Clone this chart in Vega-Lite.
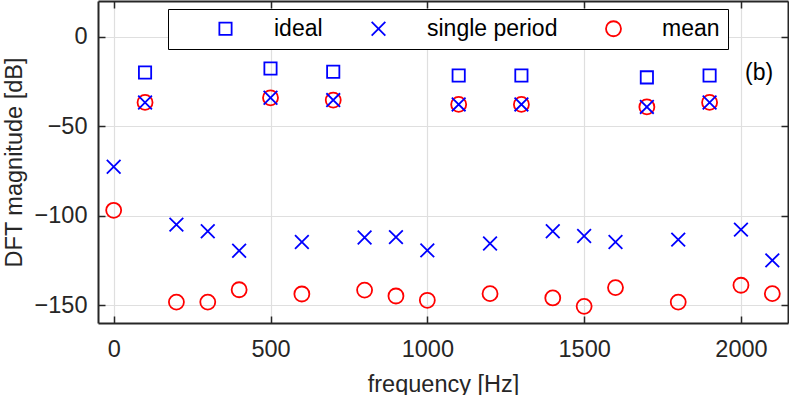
{
  "$schema": "https://vega.github.io/schema/vega-lite/v6.json",
  "autosize": "none",
  "width": 690,
  "height": 322,
  "padding": {"left": 98, "top": 1, "right": 1, "bottom": 72},
  "background": "white",
  "config": {
    "font": "Liberation Sans",
    "view": {"stroke": null},
    "axis": {
      "labelFont": "Liberation Sans",
      "titleFont": "Liberation Sans",
      "labelFontSize": 23.5,
      "titleFontSize": 23.5,
      "titleFontWeight": "normal",
      "labelColor": "#262626",
      "titleColor": "#262626",
      "domain": true,
      "domainColor": "#262626",
      "domainWidth": 2,
      "domainOpacity": 1,
      "ticks": true,
      "tickColor": "#262626",
      "tickWidth": 1.5,
      "tickOpacity": 1,
      "tickSize": -7,
      "gridColor": "#dfdfdf",
      "gridWidth": 1.2,
      "zindex": 1
    }
  },
  "datasets": {
    "pts": [
      {"f": 100, "db": -20, "series": "ideal"},
      {"f": 500, "db": -17.7, "series": "ideal"},
      {"f": 700, "db": -19.6, "series": "ideal"},
      {"f": 1100, "db": -21.6, "series": "ideal"},
      {"f": 1300, "db": -21.6, "series": "ideal"},
      {"f": 1700, "db": -22.7, "series": "ideal"},
      {"f": 1900, "db": -21.6, "series": "ideal"},
      {"f": 0, "db": -97, "series": "mean"},
      {"f": 100, "db": -36.7, "series": "mean"},
      {"f": 200, "db": -148.3, "series": "mean"},
      {"f": 300, "db": -148.3, "series": "mean"},
      {"f": 400, "db": -141.4, "series": "mean"},
      {"f": 500, "db": -34.1, "series": "mean"},
      {"f": 600, "db": -143.8, "series": "mean"},
      {"f": 700, "db": -35.4, "series": "mean"},
      {"f": 800, "db": -141.6, "series": "mean"},
      {"f": 900, "db": -144.9, "series": "mean"},
      {"f": 1000, "db": -147.3, "series": "mean"},
      {"f": 1100, "db": -37.8, "series": "mean"},
      {"f": 1200, "db": -143.6, "series": "mean"},
      {"f": 1300, "db": -37.8, "series": "mean"},
      {"f": 1400, "db": -146, "series": "mean"},
      {"f": 1500, "db": -150.7, "series": "mean"},
      {"f": 1600, "db": -140.2, "series": "mean"},
      {"f": 1700, "db": -39.2, "series": "mean"},
      {"f": 1800, "db": -148.3, "series": "mean"},
      {"f": 1900, "db": -36.7, "series": "mean"},
      {"f": 2000, "db": -138.9, "series": "mean"},
      {"f": 2100, "db": -143.6, "series": "mean"},
      {"f": 0, "db": -72.7, "series": "single period"},
      {"f": 100, "db": -36.7, "series": "single period"},
      {"f": 200, "db": -105, "series": "single period"},
      {"f": 300, "db": -108.7, "series": "single period"},
      {"f": 400, "db": -119.6, "series": "single period"},
      {"f": 500, "db": -34.1, "series": "single period"},
      {"f": 600, "db": -114.7, "series": "single period"},
      {"f": 700, "db": -35.4, "series": "single period"},
      {"f": 800, "db": -112.2, "series": "single period"},
      {"f": 900, "db": -112, "series": "single period"},
      {"f": 1000, "db": -119.4, "series": "single period"},
      {"f": 1100, "db": -37.8, "series": "single period"},
      {"f": 1200, "db": -115.6, "series": "single period"},
      {"f": 1300, "db": -37.8, "series": "single period"},
      {"f": 1400, "db": -108.7, "series": "single period"},
      {"f": 1500, "db": -111.4, "series": "single period"},
      {"f": 1600, "db": -114.7, "series": "single period"},
      {"f": 1700, "db": -39.2, "series": "single period"},
      {"f": 1800, "db": -113.4, "series": "single period"},
      {"f": 1900, "db": -36.7, "series": "single period"},
      {"f": 2000, "db": -107.8, "series": "single period"},
      {"f": 2100, "db": -125, "series": "single period"}
    ],
    "note": [{"f": 2058, "db": -20, "label": "(b)"}]
  },
  "layer": [
    {
      "data": {"name": "pts"},
      "mark": {"type": "point", "filled": false, "strokeWidth": 1.8, "opacity": 1},
      "encoding": {
        "x": {
          "field": "f", "type": "quantitative",
          "scale": {"domain": [-50, 2150], "nice": false, "zero": false},
          "axis": {"values": [0, 500, 1000, 1500, 2000], "format": "d", "title": "frequency [Hz]", "labelPadding": 21, "titlePadding": 12, "grid": true, "domainColor": "#262626", "tickColor": "#262626"}
        },
        "y": {
          "field": "db", "type": "quantitative",
          "scale": {"domain": [-160, 20], "nice": false, "zero": false},
          "axis": {"values": [-150, -100, -50, 0], "format": "d", "title": "DFT magnitude [dB]", "labelPadding": 18, "titlePadding": 8, "grid": true, "domainColor": "#262626", "tickColor": "#262626"}
        },
        "color": {
          "field": "series", "type": "nominal",
          "scale": {"domain": ["ideal", "single period", "mean"], "range": ["#0000ff", "#0000ff", "#ff0000"]},
          "legend": {
            "orient": "none", "legendX": 70, "legendY": 8,
            "direction": "horizontal",
            "title": "\u00a0", "titleOrient": "left", "titlePadding": 38, "titleFontSize": 22,
            "fillColor": "white", "strokeColor": "#000000",
            "padding": 8, "labelFontSize": 23, "labelFont": "Liberation Sans", "labelColor": "#000000",
            "labelOffset": 37, "columnPadding": 44, "symbolStrokeWidth": 1.8, "symbolFillColor": "transparent",
            "symbolSize": 200,
            "encode": {"legend": {"update": {"strokeWidth": {"value": 1.5}}}}
          }
        },
        "shape": {
          "field": "series", "type": "nominal",
          "scale": {"domain": ["ideal", "single period", "mean"], "range": ["square", "M-1,-1L1,1M-1,1L1,-1", "circle"]},
          "legend": null
        },
        "size": {
          "field": "series", "type": "nominal",
          "scale": {"domain": ["ideal", "single period", "mean"], "range": [150, 225, 250]},
          "legend": null
        }
      }
    },
    {
      "data": {"name": "pts"},
      "mark": {"type": "point", "opacity": 0},
      "encoding": {
        "x": {
          "field": "f", "type": "quantitative",
          "scale": {"domain": [-50, 2150], "nice": false, "zero": false},
          "axis": {"orient": "top", "values": [0, 500, 1000, 1500, 2000], "labels": false, "title": null, "grid": false}
        },
        "y": {
          "field": "db", "type": "quantitative",
          "scale": {"domain": [-160, 20], "nice": false, "zero": false},
          "axis": {"orient": "right", "values": [-150, -100, -50, 0], "labels": false, "title": null, "grid": false}
        }
      }
    },
    {
      "data": {"name": "note"},
      "mark": {"type": "text", "fontSize": 23, "font": "Liberation Sans", "color": "#000000"},
      "encoding": {
        "x": {"field": "f", "type": "quantitative", "axis": null},
        "y": {"field": "db", "type": "quantitative", "axis": null},
        "text": {"field": "label"}
      }
    }
  ],
  "resolve": {"axis": {"x": "independent", "y": "independent"}}
}
